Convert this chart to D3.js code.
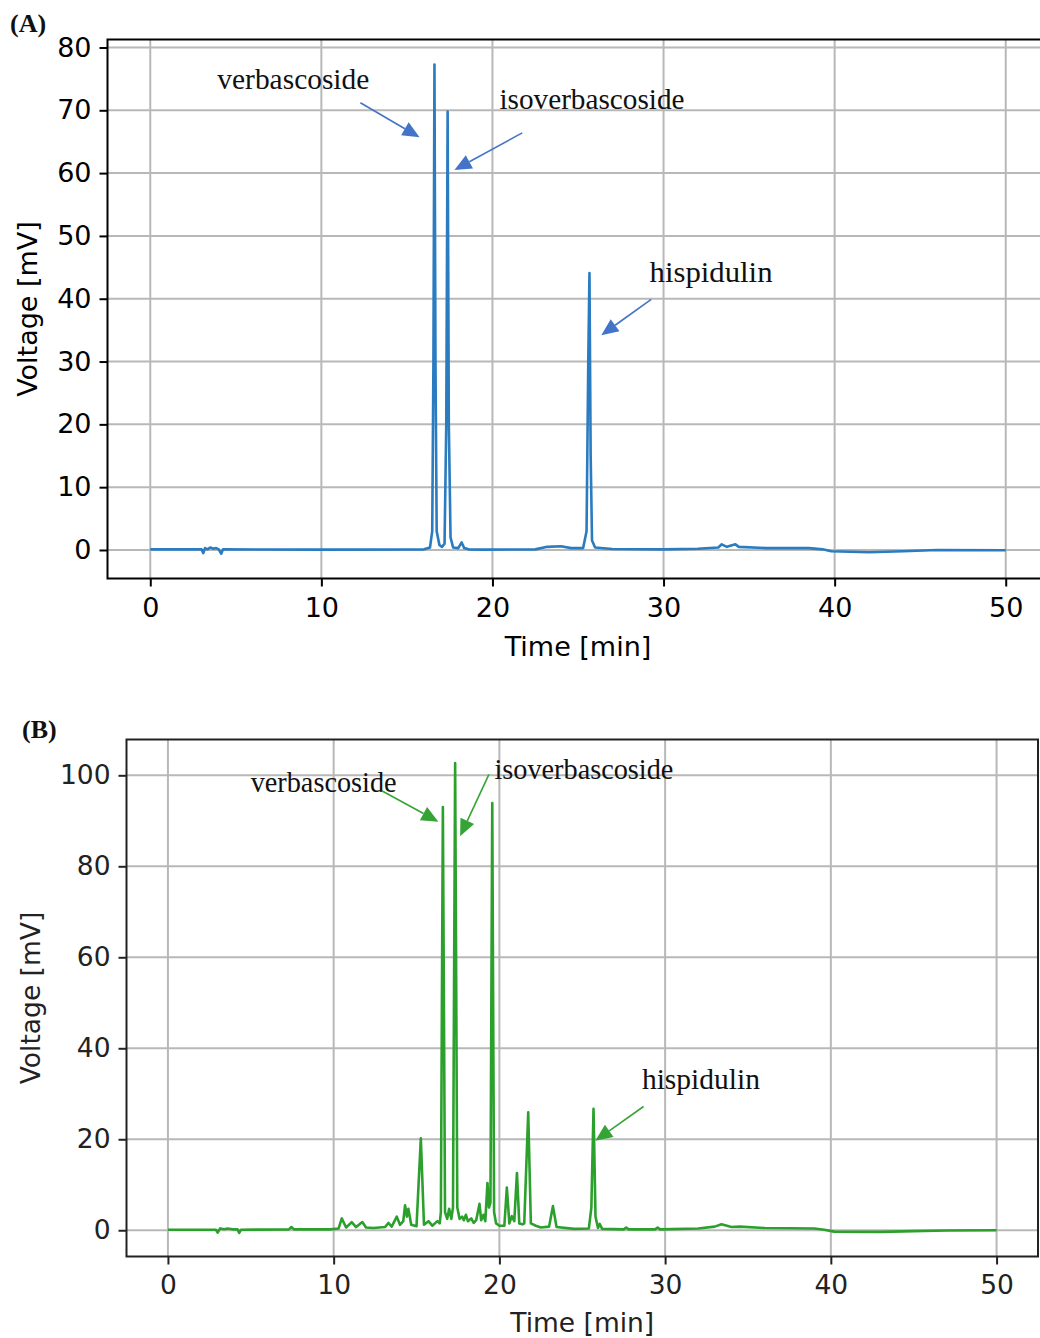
<!DOCTYPE html>
<html><head><meta charset="utf-8">
<script src="https://cdn.jsdelivr.net/npm/d3@7"></script>
<style>
body{margin:0;background:#fff;}
svg{display:block;}
</style></head>
<body>
<svg id="chart" width="1040" height="1338"></svg>
<script>
// ---------- DATA ----------
const timeA = [0,3.0,3.1,3.2,3.35,3.5,3.7,3.85,4.0,4.15,4.25,10,16.0,16.35,16.48,16.55,16.61,16.67,16.74,16.9,17.05,17.2,17.3,17.38,17.45,17.55,17.7,18.0,18.2,18.35,18.6,19.5,22.5,23.2,24.0,24.6,25.3,25.5,25.6,25.67,25.74,25.82,26.0,27,30,32,33.2,33.4,33.7,34.2,34.4,36,38.5,39.3,39.8,42,44,46,50];
const voltA = [0.1,0.1,-0.5,0.3,0.1,0.4,0.2,0.3,0.1,-0.6,0.1,0.05,0.1,0.4,3,30,77.3,30,3,0.8,0.5,1,20,69.8,20,2,0.4,0.3,1.2,0.3,0.1,0.05,0.1,0.5,0.6,0.3,0.3,3,30,44.1,15,1.5,0.4,0.15,0.1,0.2,0.4,0.9,0.5,0.9,0.5,0.3,0.3,0.1,-0.2,-0.35,-0.2,0.0,-0.05];

const timeB = [0,2.9,3.0,3.15,3.4,3.6,3.9,4.2,4.3,4.4,7.3,7.45,7.6,9.8,10.3,10.49,10.75,11.09,11.35,11.73,11.95,12.4,13.1,13.3,13.5,13.81,14.0,14.2,14.31,14.42,14.51,14.68,15.0,15.26,15.45,15.72,15.95,16.26,16.4,16.47,16.59,16.72,16.85,16.97,17.1,17.2,17.33,17.46,17.6,17.75,17.85,17.98,18.1,18.3,18.45,18.6,18.8,18.9,19.04,19.15,19.28,19.37,19.46,19.57,19.68,19.8,20.0,20.3,20.45,20.6,20.75,20.9,21.06,21.2,21.4,21.5,21.74,21.9,22.2,22.5,23.0,23.23,23.45,24.5,25.4,25.55,25.68,25.8,25.95,26.05,26.2,27.5,27.65,27.8,29.4,29.55,29.7,32.0,33.0,33.4,34.0,34.5,36,39.0,39.6,40.2,43,45,47,50];
const voltB = [0.1,0.1,-0.5,0.4,0.2,0.4,0.2,0.2,-0.6,0.1,0.2,0.7,0.2,0.2,0.4,2.6,0.6,1.8,0.7,1.8,0.6,0.5,0.7,1.6,0.8,3.0,1.2,2.0,5.5,3.0,4.7,1.2,0.9,20.2,1.2,2.0,1.0,2.0,1.5,4,93,4,2.5,4.7,2.5,5,102.7,5,2.5,3.0,2.2,3.4,2.0,2.6,1.6,2.2,5.8,2.2,3.4,2.0,10.4,5,6,93.9,4,1.5,1.0,1.0,9.4,1.5,3.1,2.0,12.6,1.5,1.3,1.5,25.9,1.5,1.0,0.6,0.8,5.3,0.7,0.3,0.4,5,26.7,3,0.5,1.4,0.3,0.2,0.6,0.2,0.2,0.6,0.2,0.4,0.8,1.3,0.7,0.8,0.5,0.4,0.1,-0.3,-0.35,-0.2,-0.05,0.0];

const xTicks = [0,10,20,30,40,50];
const yTicksA = [0,10,20,30,40,50,60,70,80];
const yTicksB = [0,20,40,60,80,100];

const labelNames = ["verbascoside","isoverbascoside","hispidulin"];
// annotation: text anchor (time, mV), arrow tail (time, mV), arrow tip (time, mV)
const annTextA = [[3.92,73.4],[20.41,70.2],[29.18,42.7]];
const annTailA = [[12.28,71.2],[21.74,66.4],[29.28,39.9]];
const annTipA  = [[15.74,65.7],[17.78,60.5],[26.36,34.2]];
const annTextB = [[4.99,96.3],[19.7,99.1],[28.6,31.1]];
const annTailB = [[12.9,96.6],[19.37,100.2],[28.7,27.2]];
const annTipB  = [[16.32,89.8],[17.63,86.6],[25.79,19.7]];

// ---------- DRAW ----------
const svg = d3.select("#chart");

function panel(cfg){
  const g = svg.append("g");
  const x = d3.scaleLinear().domain([-2.5,52.5]).range([cfg.left, cfg.right]);
  const y = d3.scaleLinear().domain(cfg.ydom).range([cfg.bottom, cfg.top]);
  const clipId = "clip"+cfg.id;
  svg.append("clipPath").attr("id",clipId).append("rect")
    .attr("x",cfg.left).attr("y",cfg.top).attr("width",cfg.right-cfg.left).attr("height",cfg.bottom-cfg.top);

  // grid
  const grid = g.append("g").attr("clip-path",`url(#${clipId})`);
  grid.selectAll("line.vx").data(xTicks).join("line")
    .attr("x1",d=>x(d)).attr("x2",d=>x(d)).attr("y1",cfg.top).attr("y2",cfg.bottom)
    .attr("stroke","#b8b8b8").attr("stroke-width",2);
  grid.selectAll("line.hy").data(cfg.yticks).join("line")
    .attr("y1",d=>y(d)).attr("y2",d=>y(d)).attr("x1",cfg.left).attr("x2",cfg.right)
    .attr("stroke","#b8b8b8").attr("stroke-width",2);

  // line
  const pts = cfg.t.map((t,i)=>[t,cfg.v[i]]);
  g.append("path").datum(pts)
    .attr("clip-path",`url(#${clipId})`)
    .attr("fill","none").attr("stroke",cfg.color).attr("stroke-width",2.6)
    .attr("stroke-linejoin","round")
    .attr("d",d3.line().x(d=>x(d[0])).y(d=>y(d[1])));

  // axes
  const xa = g.append("g").attr("transform",`translate(0,${cfg.bottom})`)
    .call(d3.axisBottom(x).tickValues(xTicks).tickSize(8).tickPadding(11).tickFormat(d3.format("d")));
  const ya = g.append("g").attr("transform",`translate(${cfg.left},0)`)
    .call(d3.axisLeft(y).tickValues(cfg.yticks).tickSize(8).tickPadding(8).tickFormat(d3.format("d")));
  [xa,ya].forEach(a=>{
    a.select(".domain").remove();
    a.selectAll(".tick line").attr("stroke",cfg.textColor).attr("stroke-width",2);
    a.selectAll(".tick text").attr("fill",cfg.textColor)
      .style("font-family","'DejaVu Sans', sans-serif").style("font-size",cfg.fs+"px");
  });

  // frame
  g.append("rect").attr("x",cfg.left).attr("y",cfg.top)
    .attr("width",cfg.right-cfg.left).attr("height",cfg.bottom-cfg.top)
    .attr("fill","none").attr("stroke",cfg.textColor).attr("stroke-width",2);

  // axis labels
  g.append("text").attr("x",x(25)).attr("y",cfg.xlabY).attr("text-anchor","middle")
    .attr("fill",cfg.textColor).style("font-family","'DejaVu Sans', sans-serif").style("font-size",cfg.fs+"px")
    .text("Time [min]");
  g.append("text").attr("transform",`translate(${cfg.ylabX},${(cfg.top+cfg.bottom)/2+cfg.ylabDy}) rotate(-90)`)
    .attr("text-anchor","middle").attr("fill",cfg.textColor)
    .style("font-family","'DejaVu Sans', sans-serif").style("font-size",cfg.fs+"px")
    .text("Voltage [mV]");

  // annotations
  labelNames.forEach((name,i)=>{
    const [tx,ty] = cfg.annText[i];
    g.append("text").attr("x",x(tx)).attr("y",y(ty))
      .attr("fill","#111").style("font-family","'Liberation Serif', serif").style("font-size",cfg.annFs+"px")
      .attr("textLength",cfg.annW[i]).attr("lengthAdjust","spacingAndGlyphs")
      .text(name);
    const x0 = x(cfg.annTail[i][0]), y0 = y(cfg.annTail[i][1]);
    const x1 = x(cfg.annTip[i][0]), y1 = y(cfg.annTip[i][1]);
    const dx = x1-x0, dy = y1-y0, L = Math.hypot(dx,dy), ux = dx/L, uy = dy/L;
    const hl = 17, hw = 7.5;
    const bx = x1-ux*hl, by = y1-uy*hl;
    g.append("line").attr("x1",x0).attr("y1",y0).attr("x2",bx).attr("y2",by)
      .attr("stroke",cfg.arrowColor).attr("stroke-width",1.6);
    g.append("path").attr("d",`M${x1},${y1}L${bx-uy*hw},${by+ux*hw}L${bx+uy*hw},${by-ux*hw}Z`)
      .attr("fill",cfg.arrowColor);
  });

  // panel label
  g.append("text").attr("x",cfg.plx).attr("y",cfg.ply)
    .attr("fill","#111").style("font-family","'Liberation Serif', serif").style("font-weight","bold").style("font-size","26px")
    .text(cfg.panelLabel);
}

panel({id:"A", left:107.5, right:1048.5, top:39.5, bottom:578.5, ydom:[-4.54,81.27],
  yticks:yTicksA, t:timeA, v:voltA, color:"#2a7bbf", textColor:"#000", fs:27,
  xlabY:656, ylabX:37, ylabDy:0, annFs:29, annW:[152,185,123],
  annText:annTextA, annTail:annTailA, annTip:annTipA, arrowColor:"#4474c8",
  panelLabel:"(A)", plx:10, ply:32});

panel({id:"B", left:126.5, right:1038, top:739.5, bottom:1256.5, ydom:[-5.77,107.87],
  yticks:yTicksB, t:timeB, v:voltB, color:"#2ca02c", textColor:"#222", fs:26.5,
  xlabY:1332, ylabX:40, ylabDy:0, annFs:28.5, annW:[146,179,118],
  annText:annTextB, annTail:annTailB, annTip:annTipB, arrowColor:"#36a336",
  panelLabel:"(B)", plx:22, ply:738});
</script>
</body></html>
